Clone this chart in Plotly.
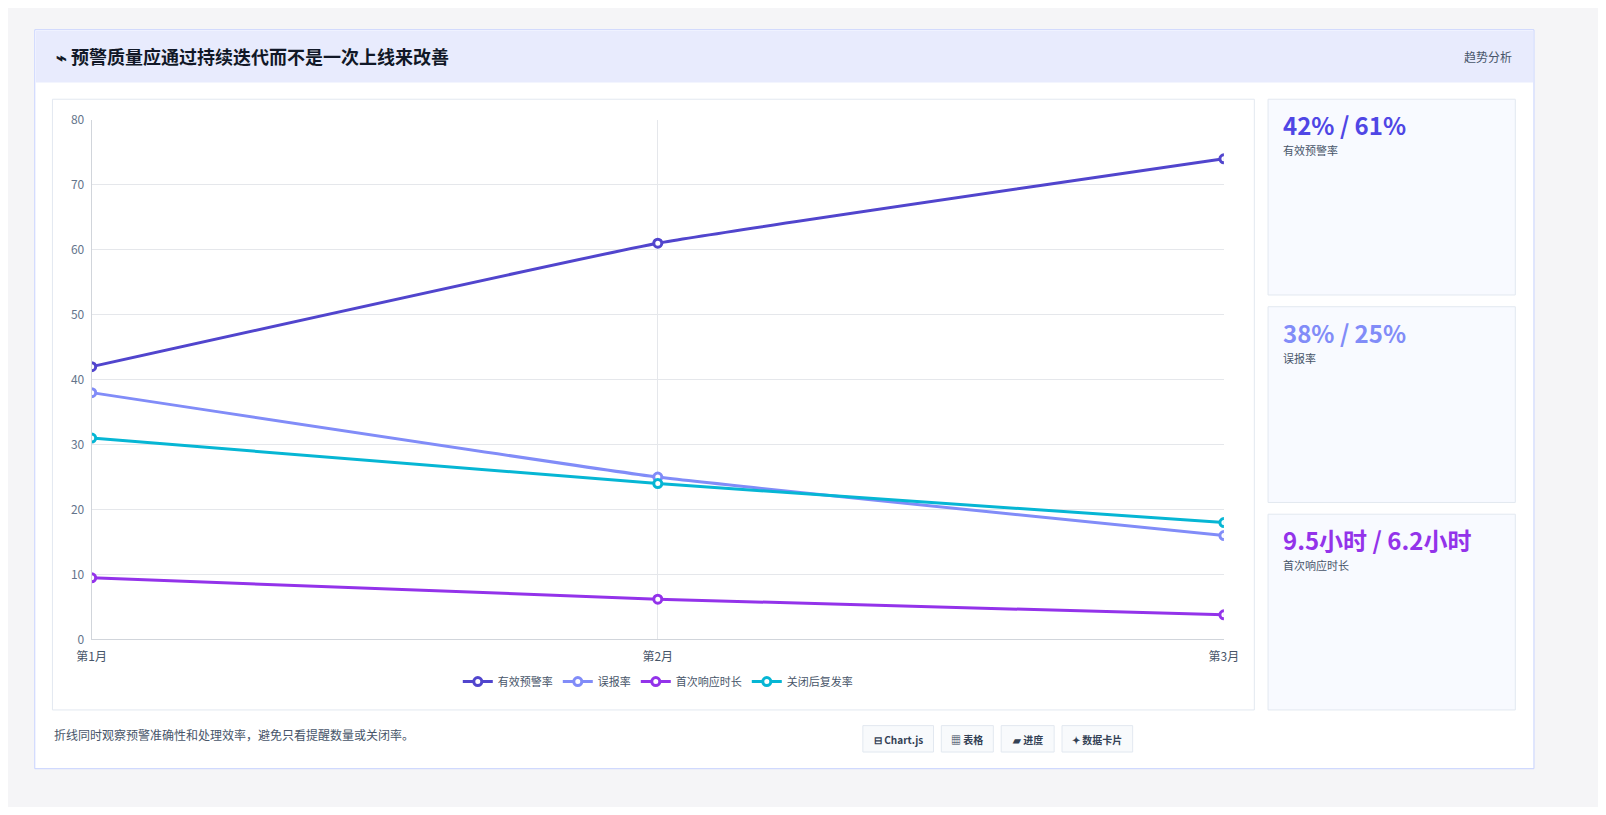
import plotly.graph_objects as go

W, H = 1606, 815
PAD = 8  # browser body margin
FW, FH = W - 2 * PAD, H - 2 * PAD

months = ["第1月", "第2月", "第3月"]
effective_rate = [42, 61, 74]
false_rate = [38, 25, 16]
response_hours = [9.5, 6.2, 3.8]
recurrence_rate = [31, 24, 18]

series_names = ["有效预警率", "误报率", "首次响应时长", "关闭后复发率"]
series_colors = ["#5145cd", "#818cf8", "#9333ea", "#06b6d4"]

card_values = ["42% / 61%", "38% / 25%", "9.5小时 / 6.2小时"]
card_labels = ["有效预警率", "误报率", "首次响应时长"]
card_colors = ["#4f46e5", "#818cf8", "#9333ea"]
chips = ["⊟ Chart.js", "▦ 表格", "▰ 进度", "✦ 数据卡片"]


def px(x):
    return (x - PAD) / FW


def py(y):
    return 1 - (y - PAD) / FH


def box(x0, y0, x1, y1, fill, line="#e2e8f0", layer="below"):
    return dict(type="rect", xref="paper", yref="paper", x0=px(x0), x1=px(x1),
                y0=py(y1), y1=py(y0), fillcolor=fill, line=dict(color=line, width=1),
                layer=layer)


fig = go.Figure()
for name, vals, col in zip(series_names, [effective_rate, false_rate, response_hours, recurrence_rate], series_colors):
    fig.add_trace(go.Scatter(
        x=[0, 1, 2], y=vals, name=name, mode="lines+markers",
        line=dict(color=col, width=3, shape="spline", smoothing=0.3),
        marker=dict(size=8, color="white", line=dict(color=col, width=3)),
    ))

shapes = [
    box(20, 20, 1548, 775, "white", "#c7d2fe"),
    box(21, 21, 1547, 74, "#e8ebfd", "rgba(0,0,0,0)"),
    box(38, 91, 1263, 715, "white"),
]
for i in range(3):
    y0 = 91 + i * 212
    shapes.append(box(1277, y0, 1529, y0 + 200, "#f8faff"))

ann = [
    dict(text="<b>⌁ 预警质量应通过持续迭代而不是一次上线来改善</b>", x=px(40), y=py(47),
         font=dict(size=18, color="#111827"), xanchor="left"),
    dict(text="趋势分析", x=px(1528), y=py(47), font=dict(size=12, color="#475569"), xanchor="right"),
    dict(text="折线同时观察预警准确性和处理效率，避免只看提醒数量或关闭率。", x=px(38), y=py(740),
         font=dict(size=12, color="#475569"), xanchor="left"),
]
for i in range(3):
    y0 = 91 + i * 212
    ann.append(dict(text="<b>" + card_values[i] + "</b>", x=px(1290), y=py(y0 + 26),
                    font=dict(size=24, color=card_colors[i]), xanchor="left"))
    ann.append(dict(text=card_labels[i], x=px(1290), y=py(y0 + 52),
                    font=dict(size=11, color="#475569"), xanchor="left"))
chip_x = [864, 944, 1005, 1067]
chip_w = [72, 53, 54, 72]
for cx, cw, t in zip(chip_x, chip_w, chips):
    shapes.append(dict(type="rect", xref="paper", yref="paper", x0=px(cx), x1=px(cx + cw),
                       y0=py(758), y1=py(731), fillcolor="#f8fafc",
                       line=dict(color="#e2e8f0", width=1), layer="below"))
    ann.append(dict(text="<b>" + t + "</b>", x=px(cx + cw / 2), y=py(745),
                    font=dict(size=10, color="#334155"), xanchor="center"))
for a in ann:
    a.update(xref="paper", yref="paper", showarrow=False, yanchor="middle")

fig.update_layout(
    width=FW, height=FH, margin=dict(l=0, r=0, t=0, b=0),
    paper_bgcolor="#f5f5f7", plot_bgcolor="white",
    font=dict(family="Noto Sans CJK SC, sans-serif", size=12, color="#64748b"),
    shapes=shapes, annotations=ann,
    legend=dict(orientation="h", x=px(655), y=py(686), xanchor="center", yanchor="middle",
                font=dict(size=11, color="#475569"), bgcolor="rgba(0,0,0,0)"),
    xaxis=dict(domain=[px(78), px(1232)], range=[0, 2], tickvals=[0, 1, 2], ticktext=months,
               showgrid=True, gridcolor="#e5e7eb", zeroline=False, showline=True,
               linecolor="#d1d5db", ticks="", ticklabelstandoff=6,
               tickfont=dict(size=12, color="#475569")),
    yaxis=dict(domain=[py(643), py(112)], range=[0, 80], dtick=10, showgrid=True,
               gridcolor="#e5e7eb", zeroline=False, showline=True, linecolor="#d1d5db",
               ticklabelstandoff=4, tickfont=dict(size=12, color="#64748b")),
)

fig.write_html("out.html")
